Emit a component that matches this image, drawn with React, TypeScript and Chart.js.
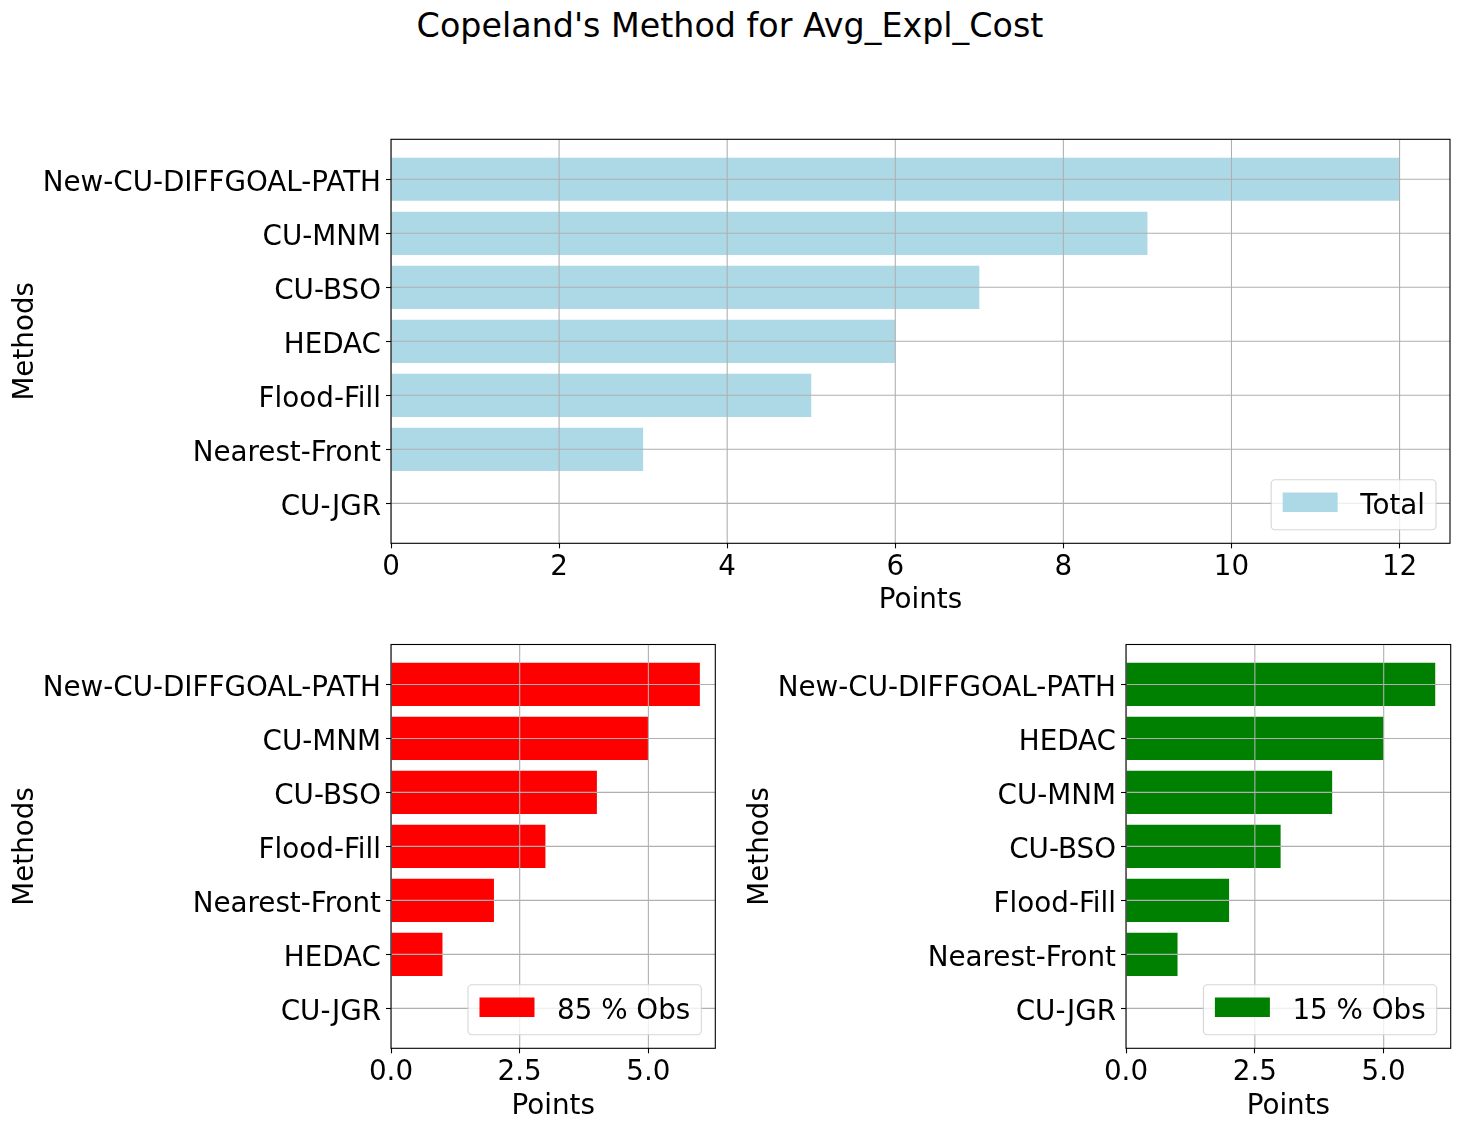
import React, { useEffect, useRef } from 'react';
import { Chart, registerables } from 'chart.js';

Chart.register(...registerables);

const FONT = 'DejaVu Sans';
const FS = 27.78;

const chartTitle = "Copeland's Method for Avg_Expl_Cost";

const totalMethods = ['New-CU-DIFFGOAL-PATH', 'CU-MNM', 'CU-BSO', 'HEDAC', 'Flood-Fill', 'Nearest-Front', 'CU-JGR'];
const totalPoints = [12, 9, 7, 6, 5, 3, 0];

const obs85Methods = ['New-CU-DIFFGOAL-PATH', 'CU-MNM', 'CU-BSO', 'Flood-Fill', 'Nearest-Front', 'HEDAC', 'CU-JGR'];
const obs85Points = [6, 5, 4, 3, 2, 1, 0];

const obs15Methods = ['New-CU-DIFFGOAL-PATH', 'HEDAC', 'CU-MNM', 'CU-BSO', 'Flood-Fill', 'Nearest-Front', 'CU-JGR'];
const obs15Points = [6, 5, 4, 3, 2, 1, 0];

const topXTicks = [0, 2, 4, 6, 8, 10, 12];
const topXTickLabels = ['0', '2', '4', '6', '8', '10', '12'];
const bottomXTicks = [0, 2.5, 5];
const bottomXTickLabels = ['0.0', '2.5', '5.0'];

function roundRectPath(ctx: CanvasRenderingContext2D, x: number, y: number, w: number, h: number, r: number) {
  ctx.beginPath();
  ctx.moveTo(x + r, y);
  ctx.lineTo(x + w - r, y);
  ctx.arcTo(x + w, y, x + w, y + r, r);
  ctx.lineTo(x + w, y + h - r);
  ctx.arcTo(x + w, y + h, x + w - r, y + h, r);
  ctx.lineTo(x + r, y + h);
  ctx.arcTo(x, y + h, x, y + h - r, r);
  ctx.lineTo(x, y + r);
  ctx.arcTo(x, y, x + r, y, r);
  ctx.closePath();
}

const mplPlugin = {
  id: 'mpl',
  afterDatasetsDraw(chart: any) {
    const { ctx, chartArea: a, scales } = chart;
    ctx.save();
    ctx.beginPath();
    ctx.rect(a.left, a.top, a.right - a.left, a.bottom - a.top);
    ctx.clip();
    ctx.strokeStyle = '#b0b0b0';
    ctx.lineWidth = 1.1;
    ctx.beginPath();
    for (const t of scales.x.ticks) {
      const px = scales.x.getPixelForValue(t.value);
      ctx.moveTo(px, a.top);
      ctx.lineTo(px, a.bottom);
    }
    for (const t of scales.y.ticks) {
      const py = scales.y.getPixelForValue(t.value);
      ctx.moveTo(a.left, py);
      ctx.lineTo(a.right, py);
    }
    ctx.stroke();
    ctx.restore();
  },
  afterDraw(chart: any, _args: any, opts: any) {
    const { ctx, chartArea: a } = chart;
    ctx.save();
    ctx.strokeStyle = '#000';
    ctx.lineWidth = 1.1;
    ctx.strokeRect(a.left, a.top, a.right - a.left, a.bottom - a.top);
    ctx.font = `${FS}px "${FONT}"`;
    const tw = ctx.measureText(opts.label).width;
    const padL = 11, handle = 55, gap = 23, padR = 11, h = 50;
    const w = padL + handle + gap + tw + padR;
    const x = a.right - 14 - w;
    const y = a.bottom - 13.5 - h;
    roundRectPath(ctx, x, y, w, h, 4);
    ctx.fillStyle = 'rgba(255,255,255,0.8)';
    ctx.fill();
    ctx.strokeStyle = 'rgba(204,204,204,0.8)';
    ctx.lineWidth = 1.1;
    ctx.stroke();
    ctx.fillStyle = opts.color;
    ctx.fillRect(x + padL + 0.5, y + 12.7, handle, 19.5);
    ctx.fillStyle = '#000';
    ctx.textAlign = 'left';
    ctx.textBaseline = 'alphabetic';
    ctx.fillText(opts.label, x + padL + handle + gap, y + 34);
    ctx.restore();
  },
};

type PanelProps = {
  left: number;
  top: number;
  width: number;
  height: number;
  methods: string[];
  points: number[];
  color: string;
  label: string;
  xMax: number;
  xTicks: number[];
  xTickLabels: string[];
  padTop: number;
  padRight: number;
  xAxisHeight: number;
  titlePadBottom: number;
};

function BarPanel(p: PanelProps) {
  const ref = useRef<HTMLCanvasElement>(null);
  useEffect(() => {
    const font = { family: FONT, size: FS };
    const chart = new Chart(ref.current as HTMLCanvasElement, {
      type: 'bar',
      data: {
        datasets: [
          {
            label: p.label,
            data: p.points.map((v, i) => ({ x: v, y: i })),
            backgroundColor: p.color,
            borderWidth: 0,
            barPercentage: 0.8,
            categoryPercentage: 1,
          } as any,
        ],
      },
      options: {
        indexAxis: 'y',
        responsive: false,
        animation: false,
        devicePixelRatio: 1,
        layout: { padding: { top: p.padTop, right: p.padRight, left: 0, bottom: 0 } },
        plugins: {
          legend: { display: false },
          tooltip: { enabled: false },
          mpl: { label: p.label, color: p.color },
        } as any,
        scales: {
          x: {
            type: 'linear',
            offset: false,
            min: 0,
            max: p.xMax,
            afterBuildTicks: (s: any) => {
              s.ticks = p.xTicks.map((v) => ({ value: v }));
            },
            afterFit: (s: any) => {
              s.height = p.xAxisHeight;
            },
            ticks: {
              autoSkip: false,
              maxRotation: 0,
              minRotation: 0,
              padding: 3,
              color: '#000',
              font,
              callback: (_v: any, i: number) => p.xTickLabels[i],
            },
            grid: { offset: false, drawOnChartArea: false, drawTicks: true, tickLength: 5, tickColor: '#000', tickWidth: 1.1 },
            border: { display: false },
            title: { display: true, text: 'Points', color: '#000', font, padding: { top: 0, bottom: p.titlePadBottom } },
          },
          y: {
            type: 'linear',
            offset: false,
            min: -0.74,
            max: 6.74,
            reverse: true,
            afterBuildTicks: (s: any) => {
              s.ticks = p.methods.map((_m, i) => ({ value: i }));
            },
            afterFit: (s: any) => {
              s.width = 391;
            },
            ticks: {
              autoSkip: false,
              padding: 5,
              labelOffset: 4.5,
              color: '#000',
              font,
              callback: (_v: any, i: number) => p.methods[i],
            },
            grid: { offset: false, drawOnChartArea: false, drawTicks: true, tickLength: 5, tickColor: '#000', tickWidth: 1.1 },
            border: { display: false },
            title: { display: true, text: 'Methods', color: '#000', font, padding: { top: 9.5, bottom: 0 } },
          },
        },
      } as any,
      plugins: [mplPlugin as any],
    });
    return () => chart.destroy();
  }, []);
  return (
    <canvas
      ref={ref}
      width={p.width}
      height={p.height}
      style={{ position: 'absolute', left: p.left, top: p.top, width: p.width, height: p.height }}
    />
  );
}

export default function App() {
  return (
    <div style={{ position: 'absolute', left: 0, top: 0, width: 1460, height: 1129, background: '#fff', overflow: 'hidden' }}>
      <div
        style={{
          position: 'absolute',
          left: 0,
          top: 5.6,
          width: 1460,
          textAlign: 'center',
          fontFamily: FONT,
          fontSize: 33.33,
          lineHeight: '40px',
          color: '#000',
        }}
      >
        {chartTitle}
      </div>
      <BarPanel
        left={0}
        top={100}
        width={1460}
        height={530}
        methods={totalMethods}
        points={totalPoints}
        color="#add8e6"
        label="Total"
        xMax={12.6}
        xTicks={topXTicks}
        xTickLabels={topXTickLabels}
        padTop={39.3}
        padRight={10}
        xAxisHeight={86.7}
        titlePadBottom={12.4}
      />
      <BarPanel
        left={0}
        top={610}
        width={730}
        height={519}
        methods={obs85Methods}
        points={obs85Points}
        color="#ff0000"
        label="85 % Obs"
        xMax={6.3}
        xTicks={bottomXTicks}
        xTickLabels={bottomXTickLabels}
        padTop={34.5}
        padRight={14.7}
        xAxisHeight={80.7}
        titlePadBottom={5.4}
      />
      <BarPanel
        left={735}
        top={610}
        width={725}
        height={519}
        methods={obs15Methods}
        points={obs15Points}
        color="#008000"
        label="15 % Obs"
        xMax={6.3}
        xTicks={bottomXTicks}
        xTickLabels={bottomXTickLabels}
        padTop={34.5}
        padRight={9.3}
        xAxisHeight={80.7}
        titlePadBottom={5.4}
      />
    </div>
  );
}
